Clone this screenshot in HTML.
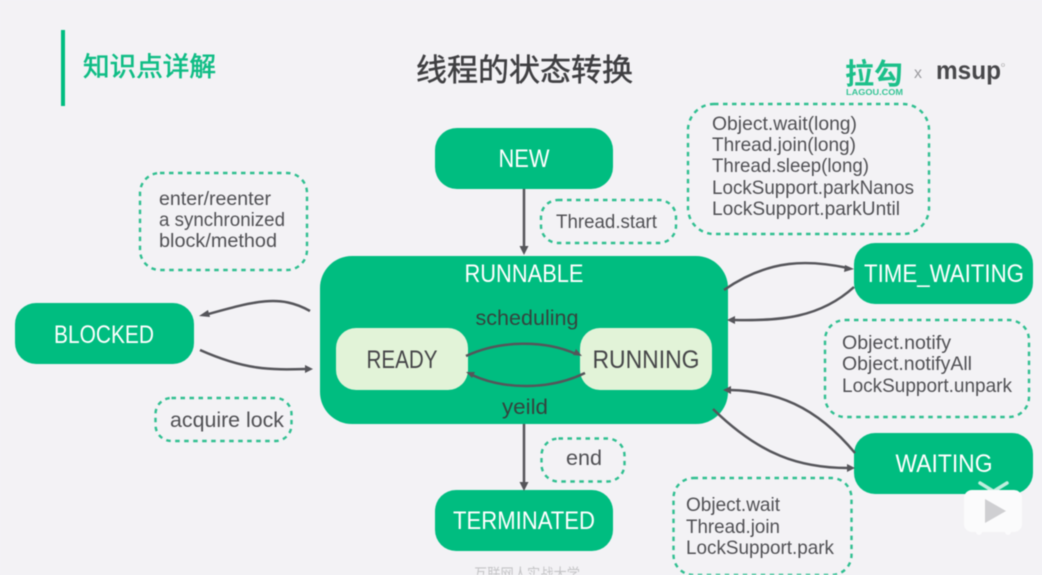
<!DOCTYPE html>
<html><head><meta charset="utf-8"><style>
html,body{margin:0;padding:0;background:#f3f2f5;width:1042px;height:575px;overflow:hidden}
svg{display:block;filter:blur(.4px)}
text{font-family:"Liberation Sans","Noto Sans CJK SC",sans-serif}
.d{fill:none;stroke:#2fbf90;stroke-width:2.4;stroke-dasharray:4.5 4.5}
.g{fill:#00bd80}
.l{fill:#e2f3d8}
.w{fill:#fff;font-size:25px;text-anchor:middle}
.k{fill:#454548;font-size:25px;text-anchor:middle}
.t{fill:#505054;font-size:19.500px}
.a{fill:none;stroke:#55555a;stroke-width:2.500}
.h{fill:#55555a}
</style></head><body>
<svg width="1042" height="575" viewBox="0 0 1042 575" xmlns="http://www.w3.org/2000/svg">
<rect width="1042" height="575" fill="#f3f2f5"/>
<rect x="61" y="30" width="4" height="76" class="g"/>
<text x="83" y="76" font-size="26.6" fill="#0fbd85" stroke="#0fbd85" stroke-width=".6" textLength="133" lengthAdjust="spacingAndGlyphs">知识点详解</text>
<text x="416" y="81" font-size="31" fill="#3f3f42" stroke="#3f3f42" stroke-width=".5" textLength="217" lengthAdjust="spacingAndGlyphs">线程的状态转换</text>
<text x="845" y="84" font-size="29" font-weight="bold" fill="#1cc08a" textLength="58" lengthAdjust="spacingAndGlyphs">拉勾</text>
<text x="846" y="95" font-size="8.5" font-weight="bold" fill="#35c596" textLength="57" lengthAdjust="spacingAndGlyphs">LAGOU.COM</text>
<text x="914" y="78" font-size="16" fill="#9a9a9e">x</text>
<text x="936" y="79" font-size="26" font-weight="bold" fill="#48484b" textLength="65" lengthAdjust="spacingAndGlyphs">msup</text>
<circle cx="1003" cy="65" r="1.500" fill="none" stroke="#aaa" stroke-width=".6"/>

<rect x="435" y="128" width="178" height="61" rx="22" class="g"/>
<rect x="320" y="256" width="408" height="168" rx="32" class="g"/>
<rect x="336" y="328" width="132" height="62" rx="20" class="l"/>
<rect x="580" y="328" width="132" height="62" rx="20" class="l"/>
<rect x="15" y="303" width="179" height="61" rx="21" class="g"/>
<rect x="435" y="490" width="178" height="61" rx="21" class="g"/>
<rect x="854" y="243" width="179" height="61" rx="21" class="g"/>
<rect x="854" y="433" width="179" height="61" rx="21" class="g"/>

<text x="524" y="167" class="w" textLength="51" lengthAdjust="spacingAndGlyphs">NEW</text>
<text x="524" y="282" class="w" textLength="119" lengthAdjust="spacingAndGlyphs">RUNNABLE</text>
<text x="104" y="343" class="w" textLength="100" lengthAdjust="spacingAndGlyphs">BLOCKED</text>
<text x="524" y="529" class="w" textLength="142" lengthAdjust="spacingAndGlyphs">TERMINATED</text>
<text x="944" y="282" class="w" textLength="160" lengthAdjust="spacingAndGlyphs">TIME_WAITING</text>
<text x="944" y="472" class="w" textLength="97" lengthAdjust="spacingAndGlyphs">WAITING</text>
<text x="402" y="368" class="k" textLength="71" lengthAdjust="spacingAndGlyphs">READY</text>
<text x="646" y="368" class="k" textLength="107" lengthAdjust="spacingAndGlyphs">RUNNING</text>
<text x="527" y="325" fill="#34443e" font-size="21" text-anchor="middle" textLength="103" lengthAdjust="spacingAndGlyphs">scheduling</text>
<text x="525" y="414" fill="#34443e" font-size="21" text-anchor="middle" textLength="46" lengthAdjust="spacingAndGlyphs">yeild</text>

<rect x="140" y="173" width="167" height="97" rx="20" class="d"/>
<rect x="541" y="200" width="135" height="43" rx="17" class="d"/>
<rect x="688" y="104" width="241" height="130" rx="26" class="d"/>
<rect x="825" y="320" width="204" height="97" rx="20" class="d"/>
<rect x="155.500" y="398" width="136" height="43" rx="16" class="d"/>
<rect x="541.500" y="438.500" width="83" height="43" rx="17" class="d"/>
<rect x="673.500" y="478" width="178" height="97" rx="20" class="d"/>

<text x="159" y="205" class="t" textLength="112" lengthAdjust="spacingAndGlyphs">enter/reenter</text>
<text x="159" y="226" class="t" textLength="126" lengthAdjust="spacingAndGlyphs">a synchronized</text>
<text x="159" y="247" class="t" textLength="118" lengthAdjust="spacingAndGlyphs">block/method</text>
<text x="556" y="228" class="t" textLength="101" lengthAdjust="spacingAndGlyphs">Thread.start</text>
<text x="712" y="130" class="t" textLength="145" lengthAdjust="spacingAndGlyphs">Object.wait(long)</text>
<text x="712" y="151" class="t" textLength="144" lengthAdjust="spacingAndGlyphs">Thread.join(long)</text>
<text x="712" y="172" class="t" textLength="157" lengthAdjust="spacingAndGlyphs">Thread.sleep(long)</text>
<text x="712" y="194" class="t" textLength="202" lengthAdjust="spacingAndGlyphs">LockSupport.parkNanos</text>
<text x="712" y="215" class="t" textLength="188" lengthAdjust="spacingAndGlyphs">LockSupport.parkUntil</text>
<text x="842" y="349" class="t" textLength="109" lengthAdjust="spacingAndGlyphs">Object.notify</text>
<text x="842" y="370" class="t" textLength="130" lengthAdjust="spacingAndGlyphs">Object.notifyAll</text>
<text x="842" y="392" class="t" textLength="170" lengthAdjust="spacingAndGlyphs">LockSupport.unpark</text>
<text x="170" y="427" class="t" style="font-size:21px" textLength="114" lengthAdjust="spacingAndGlyphs">acquire lock</text>
<text x="566" y="465" class="t" style="font-size:21px" textLength="36" lengthAdjust="spacingAndGlyphs">end</text>
<text x="686" y="511" class="t" textLength="94" lengthAdjust="spacingAndGlyphs">Object.wait</text>
<text x="686" y="533" class="t" textLength="94" lengthAdjust="spacingAndGlyphs">Thread.join</text>
<text x="686" y="554" class="t" textLength="148" lengthAdjust="spacingAndGlyphs">LockSupport.park</text>
<text x="474" y="579" font-size="15" fill="#c4c4c6" textLength="106" lengthAdjust="spacingAndGlyphs">互联网人实战大学</text>

<path class="a" d="M524 189V247"/><path class="h" d="M519.500 246h9l-4.500 9z"/>
<path class="a" d="M524 424V483"/><path class="h" d="M519.500 482h9l-4.500 9z"/>
<path class="a" d="M310 311C280 294 255 301 205 315"/><path class="h" d="M199 316l9-6 2 7z"/>
<path class="a" d="M200 350C245 370 270 370 306 369"/><path class="h" d="M313 369l-8-4v8z"/>
<path class="a" d="M466 356C500 340 545 340 576 354"/><path class="h" d="M582 356l-9-1 3-6z"/>
<path class="a" d="M585 373C550 390 505 390 472 375"/><path class="h" d="M466 372l9 0-3 6z"/>
<path class="a" d="M724 290C770 258 810 260 848 268"/><path class="h" d="M854 269l-9-4-1 7z"/>
<path class="a" d="M854 287C820 318 780 321 734 320"/><path class="h" d="M727 320l8-4v8z"/>
<path class="a" d="M855 453C815 405 775 391 730 390"/><path class="h" d="M723 390l8-4v8z"/>
<path class="a" d="M713 409C760 455 800 468 848 468"/><path class="h" d="M855 468l-8-4v8z"/>

<path d="M980 483L993 491M1007 483L994 491" stroke="#bfeedd" stroke-width="3.500" stroke-linecap="round"/>
<rect x="964" y="490" width="58" height="42" rx="8" fill="#fbfbfc"/>
<circle cx="979" cy="532" r="3" fill="#fbfbfc"/><circle cx="1008" cy="532" r="3" fill="#fbfbfc"/>
<path d="M985 499L1006 511L985 523z" fill="#cfcfd2"/>
</svg>
</body></html>
